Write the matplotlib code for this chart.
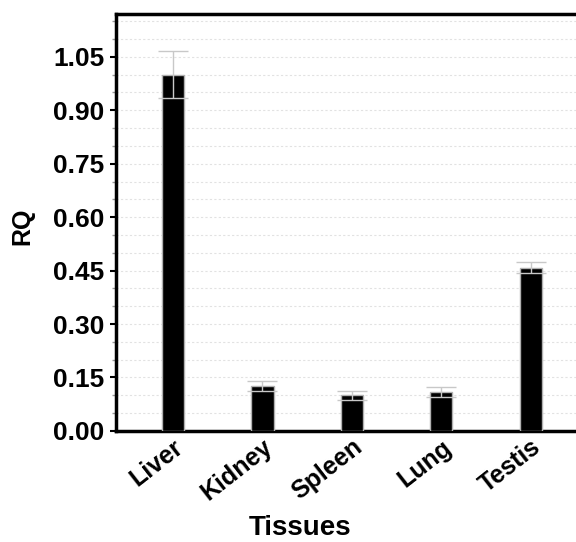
import matplotlib
matplotlib.use('Agg')
import matplotlib.pyplot as plt
from matplotlib.ticker import MultipleLocator

# datos
tejidos = ['Liver', 'Kidney', 'Spleen', 'Lung', 'Testis']
rq = [1.0, 0.126, 0.100, 0.110, 0.458]
error = [0.065, 0.013, 0.013, 0.014, 0.016]
marcas_y = [0.00, 0.15, 0.30, 0.45, 0.60, 0.75, 0.90, 1.05]

plt.rcParams['font.family'] = ['Liberation Sans', 'DejaVu Sans']
plt.rcParams['font.weight'] = 'bold'

fig = plt.figure(figsize=(5.76, 5.42), dpi=100)
ax = fig.add_axes([0.201, 0.205, 0.840, 0.769])

x = range(len(tejidos))
ax.bar(x, rq, width=0.25, color='black', edgecolor='#b0b0b0', linewidth=1, zorder=3)
ax.errorbar(x, rq, yerr=error, fmt='none', ecolor='#c8c8c8', elinewidth=1,
            capsize=11, capthick=1, zorder=4)

ax.set_xlim(-0.64, 4.77)
ax.set_ylim(0, 1.17)
ax.yaxis.set_minor_locator(MultipleLocator(0.05))
ax.set_yticks(marcas_y)
ax.set_yticklabels([f'{v:.2f}' for v in marcas_y], fontsize=19, fontweight='bold')
ax.grid(axis='y', which='both', linestyle=(0, (2, 2)), color='#e2e2e2', linewidth=0.8, zorder=0)

ax.set_xticks(list(x))
ax.set_xticklabels(tejidos, rotation=38, ha='right', rotation_mode='anchor',
                   fontsize=18, fontweight='bold')
ax.tick_params(axis='x', length=0, pad=3)
ax.tick_params(axis='y', which='major', length=4, width=1.5, pad=4)
ax.tick_params(axis='y', which='minor', length=3, width=1, color='#999999')

for lado in ['left', 'bottom', 'top']:
    ax.spines[lado].set_linewidth(2.5)
ax.spines['right'].set_visible(False)

ax.set_ylabel('RQ', fontsize=18, fontweight='bold')
ax.yaxis.set_label_coords(-0.168, 0.49)
ax.set_xlabel('Tissues', fontsize=20, fontweight='bold')
ax.xaxis.set_label_coords(0.38, -0.203)

fig.savefig('out.png', dpi=100)
